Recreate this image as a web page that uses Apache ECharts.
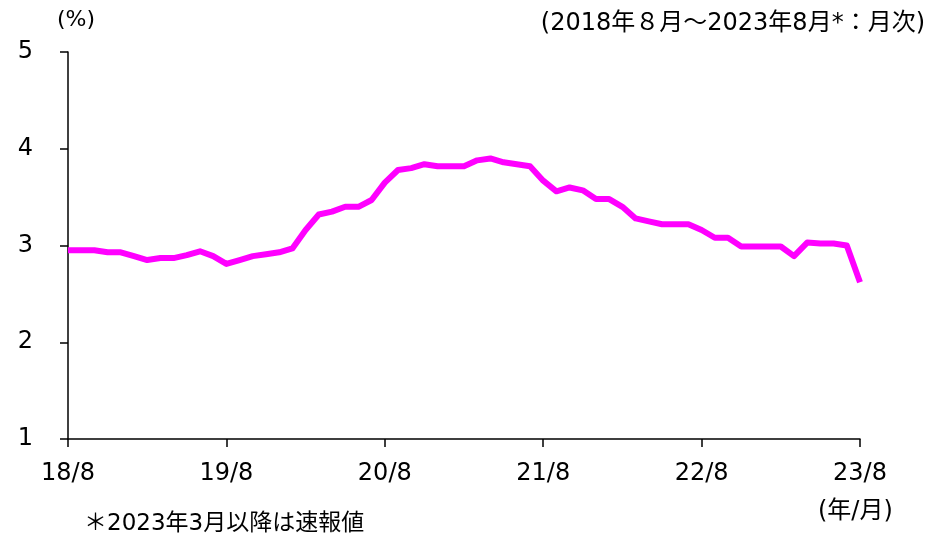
<!DOCTYPE html>
<html><head><meta charset="utf-8">
<script src="https://cdn.jsdelivr.net/npm/echarts@6/dist/echarts.min.js"></script>
<style>html,body{margin:0;padding:0;background:#fff}#c{width:932px;height:541px}</style>
</head><body><div id="c"></div>
<script>
// Monthly categories 2018/8 .. 2023/8
const months = [];
for (let y = 2018, m = 8; y < 2023 || (y === 2023 && m <= 8); ) {
  months.push(String(y % 100) + '/' + m);
  m++; if (m > 12) { m = 1; y++; }
}
const tickLabels = ['18/8', '19/8', '20/8', '21/8', '22/8', '23/8'];
const rate = [
  2.95, 2.95, 2.95, 2.93, 2.93, 2.89, 2.85, 2.87, 2.87, 2.90, 2.94, 2.89,
  2.81, 2.85, 2.89, 2.91, 2.93, 2.97, 3.16, 3.32, 3.35, 3.40, 3.40, 3.47,
  3.65, 3.78, 3.80, 3.84, 3.82, 3.82, 3.82, 3.88, 3.90, 3.86, 3.84, 3.82,
  3.67, 3.56, 3.60, 3.57, 3.48, 3.48, 3.40, 3.28, 3.25, 3.22, 3.22, 3.22,
  3.16, 3.08, 3.08, 2.99, 2.99, 2.99, 2.99, 2.89, 3.03, 3.02, 3.02, 3.00,
  2.62
];
const yTicks = [1, 2, 3, 4, 5];

const chart = echarts.init(document.getElementById('c'), null, {renderer: 'canvas'});
const font = '"DejaVu Sans", "Noto Sans CJK JP", sans-serif';
chart.setOption({
  animation: false,
  backgroundColor: '#fff',
  grid: {left: 68, right: 72, top: 52, bottom: 102},
  graphic: [
    {type: 'text', left: 57, top: 9, style: {text: '(%)', font: '22px ' + font, fill: '#000'}},
    {type: 'text', right: 7, top: 12, style: {text: '(2018年８月～2023年8月*：月次)', font: '24px ' + font, fill: '#000'}},
    {type: 'text', left: 84, top: 513, style: {text: '＊2023年3月以降は速報値', font: '23px ' + font, fill: '#000'}},
    {type: 'text', left: 818, top: 500, style: {text: '(年/月)', font: '24px ' + font, fill: '#000'}}
  ],
  xAxis: {
    type: 'category',
    data: months,
    boundaryGap: false,
    axisLine: {lineStyle: {color: '#000', width: 1.5}},
    axisTick: {show: true, interval: 11, length: 8, lineStyle: {color: '#000', width: 1.5}},
    axisLabel: {
      interval: 11, margin: 23, color: '#000', fontSize: 24, fontFamily: font,
      formatter: v => tickLabels.includes(v) ? v : ''
    },
    splitLine: {show: false}
  },
  yAxis: {
    type: 'value', min: yTicks[0], max: yTicks[yTicks.length - 1], interval: 1,
    axisLine: {show: true, lineStyle: {color: '#000', width: 1.5}},
    axisTick: {show: true, length: 8, lineStyle: {color: '#000', width: 1.5}},
    axisLabel: {margin: 35, color: '#000', fontSize: 24, fontFamily: font},
    splitLine: {show: false}
  },
  series: [{
    type: 'line', data: rate, showSymbol: false, symbol: 'none',
    lineStyle: {color: '#FF00FF', width: 6, join: 'round'},
    itemStyle: {color: '#FF00FF'}
  }]
});
</script></body></html>
